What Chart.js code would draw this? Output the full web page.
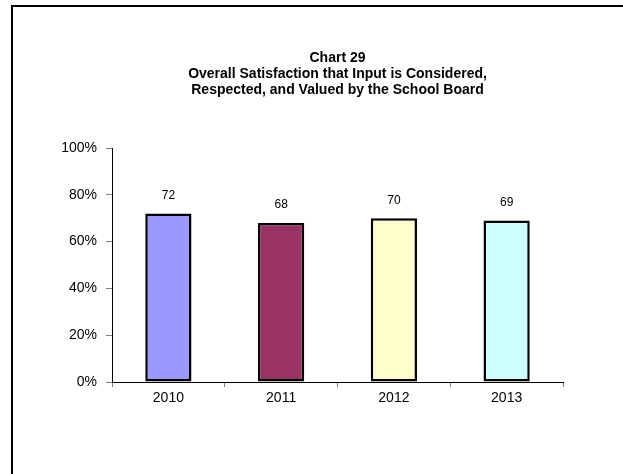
<!DOCTYPE html>
<html>
<head>
<meta charset="utf-8">
<script src="https://cdn.jsdelivr.net/npm/chart.js@4.4.1/dist/chart.umd.min.js"></script>
<style>
  html, body { margin: 0; padding: 0; background: #fff; }
  #wrap { position: relative; width: 623px; height: 474px; overflow: hidden; }
  #frame { position: absolute; left: 11px; top: 5px; right: -10px; bottom: -10px;
           border-top: 2px solid #000; border-left: 2px solid #000; }
  canvas { position: absolute; left: 0; top: 0; }
</style>
</head>
<body>
<div id="wrap">
  <div id="frame"></div>
  <canvas id="c" width="623" height="474"></canvas>
</div>
<script>
const years = ['2010', '2011', '2012', '2013'];
const satisfaction = [72, 68, 70, 69];
const barColors = ['#9999FF', '#993366', '#FFFFCC', '#CCFFFF'];
const yTicks = [0, 20, 40, 60, 80, 100];
const titleLines = ['Chart 29', 'Overall Satisfaction that Input is Considered,', 'Respected, and Valued by the School Board'];

const FONT = "Arial, 'Liberation Sans', sans-serif";

// Writes each bar's value above it
const valueLabels = {
  id: 'valueLabels',
  afterDatasetsDraw(chart) {
    const ctx = chart.ctx;
    const meta = chart.getDatasetMeta(0);
    ctx.save();
    ctx.font = '12px ' + FONT;
    ctx.fillStyle = '#000';
    ctx.textAlign = 'center';
    ctx.textBaseline = 'middle';
    meta.data.forEach((bar, i) => {
      ctx.fillText(String(satisfaction[i]), bar.x, bar.y - 18);
    });
    ctx.restore();
  }
};

new Chart(document.getElementById('c'), {
  type: 'bar',
  data: {
    labels: years,
    datasets: [{
      data: satisfaction,
      backgroundColor: barColors,
      borderColor: '#000',
      borderWidth: 2.5,
      borderSkipped: false,
      barPercentage: 0.41,
      categoryPercentage: 1
    }]
  },
  options: {
    responsive: false,
    animation: false,
    devicePixelRatio: 1,
    layout: { padding: { left: 0, right: 60, top: 0, bottom: 0 } },
    plugins: {
      legend: { display: false },
      tooltip: { enabled: false },
      title: {
        display: true,
        text: titleLines,
        fullSize: false,
        color: '#000',
        font: { family: FONT, size: 14, weight: 'bold', lineHeight: 16 / 14 },
        padding: { top: 50, bottom: 50 }
      }
    },
    scales: {
      x: {
        offset: true,
        grid: { offset: true, drawOnChartArea: false, drawTicks: true, tickLength: 5, tickColor: '#808080' },
        border: { display: true, color: '#000', width: 1 },
        ticks: { color: '#000', font: { family: FONT, size: 14 }, padding: 3 },
        afterFit(scale) { scale.height = 92; }
      },
      y: {
        min: 0,
        max: 100,
        afterBuildTicks(scale) { scale.ticks = yTicks.map(v => ({ value: v })); },
        grid: { drawOnChartArea: false, drawTicks: true, tickLength: 6, tickColor: '#808080' },
        border: { display: true, color: '#000', width: 1 },
        ticks: {
          color: '#000',
          font: { family: FONT, size: 14 },
          padding: 9,
          callback: v => v + '%'
        },
        afterFit(scale) { scale.width = 112; }
      }
    }
  },
  plugins: [valueLabels]
});
</script>
</body>
</html>
